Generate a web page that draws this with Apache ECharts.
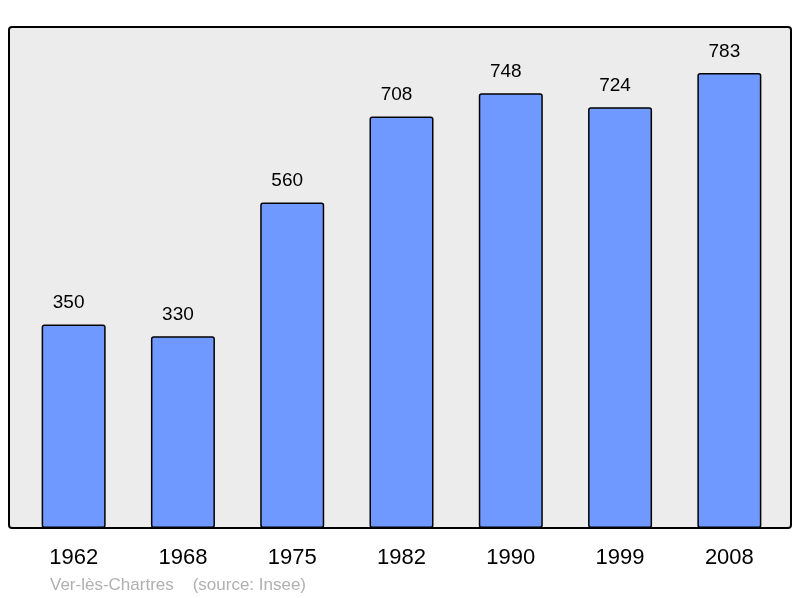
<!DOCTYPE html>
<html><head><meta charset="utf-8">
<script src="https://cdn.jsdelivr.net/npm/echarts@6/dist/echarts.min.js"></script>
<style>html,body{margin:0;padding:0;background:#fff}#c{width:800px;height:598px}</style>
</head><body><div id="c"></div>
<script>
const years = ['1962','1968','1975','1982','1990','1999','2008'];
const population = [350, 330, 560, 708, 748, 724, 783];
const sourceText = 'Ver-lès-Chartres    (source: Insee)';

const chart = echarts.init(document.getElementById('c'), null, {renderer: 'canvas'});
chart.setOption({
  animation: false,
  backgroundColor: '#ffffff',
  grid: {left: 19, right: 16, top: 27, bottom: 70},
  graphic: [
    {type: 'rect', z: -10, shape: {x: 9, y: 27, width: 782, height: 501, r: 3},
     style: {fill: '#ececec', stroke: '#000', lineWidth: 2}},
    {type: 'text', left: 50, top: 577,
     style: {text: sourceText, fill: '#b0b0b0', font: '17px "Liberation Sans", Arial, sans-serif'}}
  ],
  xAxis: {
    type: 'category', data: years,
    axisLine: {show: false}, axisTick: {show: false},
    axisLabel: {color: '#000', fontSize: 22, fontFamily: 'Liberation Sans', margin: 19}
  },
  yAxis: {
    type: 'value', min: 0, max: 862,
    show: false, splitLine: {show: false}
  },
  series: [{
    type: 'bar', data: population, barWidth: 64,
    itemStyle: {color: '#7099ff', borderColor: '#000', borderWidth: 1.5, borderRadius: 2},
    label: {show: true, position: 'top', distance: 12, offset: [-5, 0], color: '#000', fontSize: 19, fontFamily: 'Liberation Sans'}
  }]
});
</script></body></html>
